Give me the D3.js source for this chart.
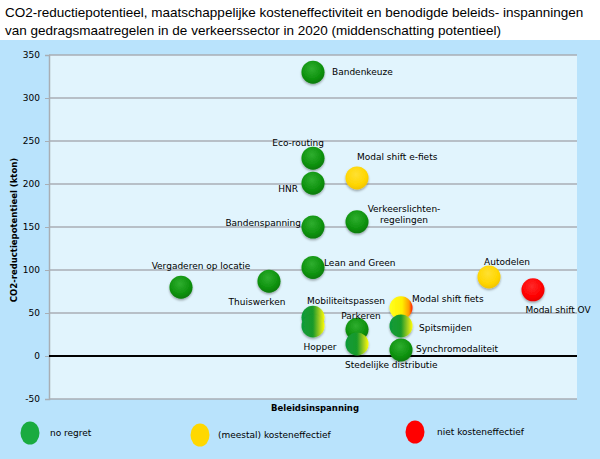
<!DOCTYPE html>
<html lang="nl">
<head>
<meta charset="utf-8">
<script src="https://cdn.jsdelivr.net/npm/d3@7/dist/d3.min.js"></script>
<style>
body{margin:0;background:#fff;}
svg text{font-family:"DejaVu Sans",sans-serif;}
</style>
</head>
<body>
<div id="chart"></div>
<script>
// data
const names=["Vergaderen op locatie","Thuiswerken","Bandenkeuze","Eco-routing","HNR","Bandenspanning","Lean and Green","Mobiliteitspassen","Hopper","Parkeren","Stedelijke distributie","Modal shift e-fiets","Verkeerslichten-\nregelingen","Modal shift fiets","Spitsmijden","Synchromodaliteit","Autodelen","Modal shift OV"]
const effort=[3,5,6,6,6,6,6,6,6,7,7,7,7,8,8,8,10,11]
const co2=[80,87,330,230,201,150,103,45,35,31,14,207,156,56,35,7,92,77]
const kind=["g","g","g","g","g","g","g","gy","gy","g","gy","y","g","yr","gy","g","y","r"]
const yTicks=[-50,0,50,100,150,200,250,300,350]
const legendNames=["no regret","(meestal) kosteneffectief","niet kosteneffectief"]
const legendKinds=["lg","ly","lr"]

// label placement [dx,dy,anchor] relative to the bubble
const labelPos=[[20,-18,"middle"],[-12,24,"middle"],[19,3,"start"],[11,-12,"end"],[-15,9,"end"],[-12,-1,"end"],[11,-1,"start"],[33,-13,"middle"],[7,24,"middle"],[4,-10,"middle"],[-12,24,"start"],[0,-18,"start"],[47,-10,"middle"],[11,-6,"start"],[18,5,"start"],[15,2,"start"],[18,-12,"middle"],[25,23,"middle"]]

const W=600,H=459
const svg=d3.select("#chart").append("svg").attr("width",W).attr("height",H)
const defs=svg.append("defs")

function radial(id,c0,c1,c2){
let g=defs.append("radialGradient").attr("id",id).attr("cx","45%").attr("cy","35%").attr("r","65%")
g.append("stop").attr("offset","0%").attr("stop-color",c0)
g.append("stop").attr("offset","70%").attr("stop-color",c1)
g.append("stop").attr("offset","100%").attr("stop-color",c2)
}
function linear(id,stops){
let g=defs.append("linearGradient").attr("id",id).attr("x1","0%").attr("x2","100%").attr("y1","0%").attr("y2","0%")
stops.forEach(s=>g.append("stop").attr("offset",s[0]).attr("stop-color",s[1]))
}
radial("g","#2fae2f","#0e920e","#077a07")
radial("y","#ffe033","#ffd600","#f2c400")
radial("r","#ff2a2a","#ff0000","#e80000")
linear("gy",[["0%","#0f9a3a"],["50%","#1a9a2a"],["80%","#a8d020"],["100%","#ffff00"]])
linear("yr",[["0%","#ffff20"],["55%","#ffee00"],["85%","#ff9a00"],["100%","#ff1a00"]])
let f=defs.append("filter").attr("id","sh").attr("x","-30%").attr("y","-30%").attr("width","160%").attr("height","160%")
f.append("feDropShadow").attr("dx",0).attr("dy",1.5).attr("stdDeviation",1.3).attr("flood-color","#000").attr("flood-opacity",0.35)

// backgrounds
svg.append("rect").attr("x",0).attr("y",40).attr("width",W).attr("height",H-40).attr("fill","#b9e3fc")

const x0=49,x1=577,yTop=55,yBot=399
const x=d3.scaleLinear().domain([0,12]).range([x0,x1])
const y=d3.scaleLinear().domain([-50,350]).range([yBot,yTop])

svg.append("rect").attr("x",x0).attr("y",yTop).attr("width",x1-x0).attr("height",yBot-yTop).attr("fill","#e1f4fd")

// title
const title=svg.append("text").attr("x",5).attr("font-size",13.5).attr("fill","#000").style("font-family","'Liberation Sans Narrow','Liberation Sans',sans-serif")
title.append("tspan").attr("x",5).attr("y",17).text("CO2-reductiepotentieel, maatschappelijke kosteneffectiviteit en benodigde beleids- inspanningen")
title.append("tspan").attr("x",5).attr("y",35).text("van gedragsmaatregelen in de verkeerssector in 2020 (middenschatting potentieel)")

// grid
svg.append("g").selectAll("line").data(yTicks.filter(d=>d!==0)).join("line")
.attr("x1",x0).attr("x2",x1).attr("y1",d=>y(d)).attr("y2",d=>y(d))
.attr("stroke","#a8aeb4").attr("stroke-width",1.5)

// y axis
const yAxis=svg.append("g").attr("transform","translate("+x0+",0)")
.call(d3.axisLeft(y).tickValues(yTicks).tickSize(4).tickPadding(5).tickFormat(d=>String(d)))
yAxis.select(".domain").attr("stroke","#a8aeb4").attr("stroke-width",1.5)
yAxis.selectAll(".tick line").attr("stroke","#a8aeb4")
yAxis.selectAll(".tick text").attr("font-size",9).attr("fill","#000").style("font-family","'DejaVu Sans',sans-serif")

// zero line
svg.append("line").attr("x1",x0).attr("x2",x1).attr("y1",y(0)).attr("y2",y(0)).attr("stroke","#000").attr("stroke-width",2)

// axis titles
svg.append("text").attr("transform","translate(17,"+((yTop+yBot)/2+3)+") rotate(-90)").attr("text-anchor","middle")
.attr("font-size",8.5).attr("font-weight","bold").text("CO2-reductiepotentieel (kton)")
svg.append("text").attr("x",315).attr("y",411).attr("text-anchor","middle").attr("font-size",8.5).attr("font-weight","bold").text("Beleidsinspanning")

// bubbles
const pts=names.map((n,i)=>({name:n,ex:effort[i],v:co2[i],k:kind[i],lp:labelPos[i]}))
svg.append("g").selectAll("circle").data(pts).join("circle")
.attr("cx",d=>x(d.ex)).attr("cy",d=>y(d.v)).attr("r",11.5)
.attr("fill",d=>"url(#"+d.k+")").attr("filter","url(#sh)")

// labels
const lab=svg.append("g").selectAll("text").data(pts).join("text")
.attr("x",d=>x(d.ex)+d.lp[0]).attr("y",d=>y(d.v)+d.lp[1]).attr("text-anchor",d=>d.lp[2])
.attr("font-size",9).attr("fill","#000")
lab.each(function(d){
let t=d3.select(this)
d.name.split("\n").forEach((s,j)=>{
t.append("tspan").attr("x",x(d.ex)+d.lp[0]).attr("dy",j?11:0).text(s)
})
})

// legend
const legX=[30,200,415],legY=[433,435,432],legColor={lg:"#1aab40",ly:"#ffd800",lr:"#ff0000"}
const leg=svg.append("g").selectAll("g").data(legendNames).join("g")
.attr("transform",(d,i)=>"translate("+legX[i]+","+legY[i]+")")
leg.append("ellipse").attr("rx",9.5).attr("ry",11.5).attr("fill",(d,i)=>legColor[legendKinds[i]])
leg.append("text").attr("x",(d,i)=>[20,18,22][i]).attr("y",3).attr("font-size",9).attr("fill","#000").text(d=>d)
</script>
</body>
</html>
